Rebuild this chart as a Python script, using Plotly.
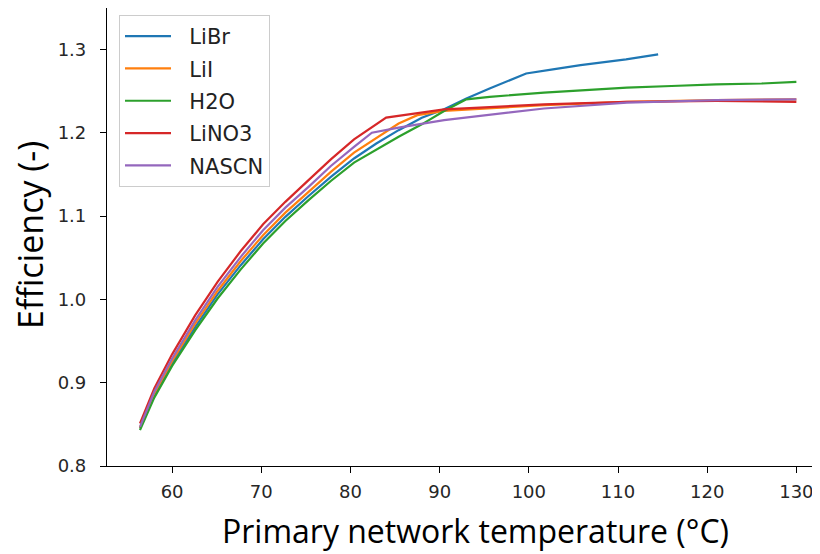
import plotly.graph_objects as go

# ---- data ----
x_common = [56.4, 58.0, 60.0, 62.6, 65.1, 67.7, 70.2, 72.7, 75.3, 77.8, 80.4]

libr_x = x_common + [82.9, 85.4, 88.0, 90.5, 93.0, 95.6, 98.1, 99.7, 102.7, 105.8, 110.9, 114.5]
libr_y = [0.845, 0.885, 0.923, 0.967, 1.006, 1.041, 1.072, 1.099, 1.124, 1.147, 1.169,
          1.187, 1.203, 1.218, 1.228, 1.241, 1.253, 1.264, 1.271, 1.276, 1.281, 1.288, 1.294]

lii_x = x_common + [82.9, 85.4, 87.5, 90.5, 101.7, 111.0, 121.0, 130.0]
lii_y = [0.846, 0.887, 0.926, 0.971, 1.010, 1.046, 1.077, 1.104, 1.129, 1.153, 1.176,
         1.194, 1.211, 1.221, 1.226, 1.233, 1.237, 1.239, 1.240]

h2o_x = x_common + [82.9, 85.4, 88.0, 90.5, 93.0, 95.6, 101.7, 106.8, 111.0, 116.0, 121.0, 126.1, 130.0]
h2o_y = [0.843, 0.882, 0.920, 0.963, 1.001, 1.036, 1.067, 1.094, 1.119, 1.142, 1.164,
         1.180, 1.195, 1.210, 1.226, 1.240, 1.243, 1.248, 1.251, 1.254, 1.256, 1.258, 1.259, 1.261]

lino3_x = x_common + [84.0, 90.5, 101.7, 111.0, 121.0, 130.0]
lino3_y = [0.851, 0.893, 0.934, 0.981, 1.021, 1.058, 1.090, 1.117, 1.143, 1.168, 1.192,
           1.218, 1.228, 1.234, 1.237, 1.238, 1.237]

nascn_x = x_common + [82.4, 85.4, 90.5, 101.7, 111.0, 121.0, 130.0]
nascn_y = [0.847, 0.889, 0.929, 0.975, 1.015, 1.051, 1.083, 1.110, 1.135, 1.160, 1.183,
           1.200, 1.206, 1.215, 1.229, 1.236, 1.239, 1.240]

series_names = ["LiBr", "LiI", "H2O", "LiNO3", "NASCN"]
series_x = [libr_x, lii_x, h2o_x, lino3_x, nascn_x]
series_y = [libr_y, lii_y, h2o_y, lino3_y, nascn_y]
colors = ["#1f77b4", "#ff7f0e", "#2ca02c", "#d62728", "#9467bd"]

x_ticks = [60, 70, 80, 90, 100, 110, 120, 130]
y_ticks = [0.8, 0.9, 1.0, 1.1, 1.2, 1.3]

NB = "\u00a0"
fig = go.Figure()
for name, xs, ys, c in zip(series_names, series_x, series_y, colors):
    fig.add_trace(go.Scatter(x=xs, y=ys, mode="lines", name=NB * 2 + name,
                             legendgroup=name, line=dict(color=c, width=2.2)))

tick_font = dict(family="DejaVu Sans", size=18, color="#262626")

# page offset of 8px (body margin) is absorbed by figure size
PL, PT, PB, PR = 107, 8, 466, 820   # plot-area edges in page pixels
PW, PH = PR - PL, PB - PT

fig.update_layout(
    width=812, height=546,
    margin=dict(l=99, r=0, t=0, b=88, autoexpand=False),
    paper_bgcolor="white", plot_bgcolor="white",
    showlegend=True,
    legend=dict(x=(119 - PL) / PW, y=1 - (15 - PT) / PH, xanchor="left", yanchor="top",
                bgcolor="white", bordercolor="#cccccc", borderwidth=1,
                font=dict(family="DejaVu Sans", size=21, color="#222222"),
                tracegroupgap=2, itemwidth=46),
    xaxis=dict(range=[52.7, 132.65], tickvals=x_ticks, ticktext=[str(v) for v in x_ticks],
               showgrid=False, zeroline=False, showline=True, linecolor="black",
               linewidth=1.2, mirror=True, ticks="outside", ticklen=6,
               tickcolor="black", tickfont=tick_font, ticklabeloverflow="allow",
               ticklabelstandoff=3),
    yaxis=dict(range=[0.8, 1.3496], tickvals=y_ticks,
               ticktext=[f"{v:.1f}" for v in y_ticks],
               showgrid=False, zeroline=False, showline=True, linecolor="black",
               linewidth=1.2, ticks="outside", ticklen=6,
               tickcolor="black", tickfont=tick_font, ticklabelstandoff=10),
    annotations=[
        dict(text="Primary network temperature (°C)", xref="paper", yref="paper",
             x=(475 - PL) / PW, y=(PB - 530) / PH, xanchor="center", yanchor="middle",
             showarrow=False, font=dict(family="Open Sans", size=32, color="black")),
        dict(text="Efficiency (-)", xref="paper", yref="paper",
             x=(30 - PL) / PW, y=(PB - 235) / PH, xanchor="center", yanchor="middle",
             textangle=-90, showarrow=False,
             font=dict(family="Open Sans", size=34, color="black")),
    ],
)

fig.write_html("out.html")
